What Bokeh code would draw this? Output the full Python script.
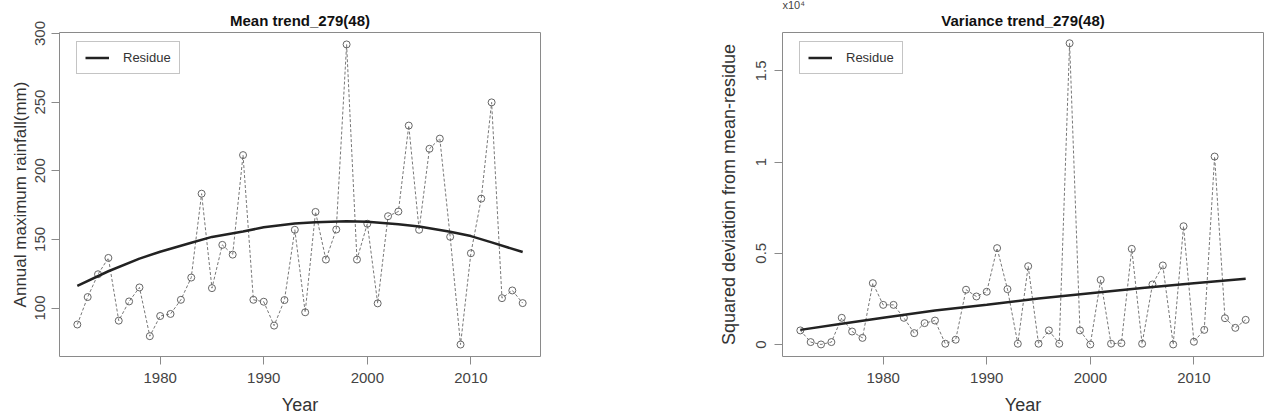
from bokeh.plotting import figure
from bokeh.layouts import row
from bokeh.models import Range1d, FixedTicker, Legend, LegendItem, Title
from bokeh.embed import file_html
from bokeh.resources import INLINE

# ---------------- data ----------------
years = [1972, 1973, 1974, 1975, 1976, 1977, 1978, 1979, 1980, 1981, 1982,
         1983, 1984, 1985, 1986, 1987, 1988, 1989, 1990, 1991, 1992, 1993,
         1994, 1995, 1996, 1997, 1998, 1999, 2000, 2001, 2002, 2003, 2004,
         2005, 2006, 2007, 2008, 2009, 2010, 2011, 2012, 2013, 2014, 2015]

annual_max = [88, 108, 124.6, 136.5, 90.8, 104.8, 115, 79.5, 94.2, 95.7, 106,
              122.2, 183.3, 114.5, 146, 138.9, 211.4, 106, 104.6, 87.2, 105.8, 157,
              96.9, 170, 135.3, 157.2, 292, 135.3, 161.4, 103.4, 166.9, 170.3, 232.9,
              157, 216, 223.4, 151.9, 73.4, 139.9, 179.7, 249.8, 107.2, 112.8, 103.6]

# squared deviation from mean-residue, in units of 10^4
sq_dev_1e4 = [0.077, 0.013, 0.0, 0.013, 0.146, 0.071, 0.036, 0.336, 0.217, 0.217, 0.146,
              0.062, 0.117, 0.131, 0.004, 0.026, 0.300, 0.263, 0.289, 0.528, 0.303, 0.004,
              0.429, 0.004, 0.077, 0.004, 1.651, 0.077, 0.0, 0.354, 0.004, 0.007, 0.524,
              0.004, 0.329, 0.433, 0.0, 0.648, 0.015, 0.080, 1.030, 0.144, 0.091, 0.135]

mean_trend_years = [1972, 1975, 1978, 1980, 1983, 1985, 1988, 1990, 1993, 1995,
                    1998, 2000, 2003, 2005, 2008, 2010, 2012, 2015]
mean_trend = [116.2, 126.8, 136.0, 141.0, 147.5, 151.8, 155.8, 158.8, 161.6, 162.5,
              163.3, 162.8, 161.0, 159.4, 155.5, 152.4, 147.8, 140.8]

var_trend_years = [1972, 1976, 1980, 1985, 1990, 1995, 2000, 2005, 2010, 2015]
var_trend_1e4 = [0.080, 0.114, 0.146, 0.186, 0.218, 0.252, 0.281, 0.310, 0.335, 0.360]

x_ticks = [1980, 1990, 2000, 2010]
left_y_ticks = [100, 150, 200, 250, 300]
right_y_ticks = [0, 0.5, 1, 1.5]
right_y_labels = {0: "0", 0.5: "0.5", 1: "1", 1.5: "1.5"}

FONT = "Liberation Sans"
GREY = "#8a8a8a"


def main_title(text):
    return Title(text=text, align="center", standoff=8, text_font=FONT,
                 text_font_size="15px", text_font_style="bold",
                 text_color="#111111")


def style(p, yticks, label_standoff, tick_standoff):
    p.outline_line_color = GREY
    p.outline_line_width = 1
    p.grid.visible = False
    p.xaxis.ticker = FixedTicker(ticks=x_ticks)
    p.yaxis.ticker = FixedTicker(ticks=yticks)
    for ax in p.axis:
        ax.axis_line_color = None
        ax.major_tick_line_color = GREY
        ax.major_tick_out = 8
        ax.major_tick_in = 0
        ax.minor_tick_line_color = None
        ax.major_label_text_font = FONT
        ax.major_label_text_font_size = "15px"
        ax.major_label_text_color = "#444444"
        ax.major_label_standoff = 8
        ax.axis_label_text_font = FONT
        ax.axis_label_text_font_style = "normal"
        ax.axis_label_text_font_size = "18px"
        ax.axis_label_text_color = "#333333"
    p.xaxis.axis_label_standoff = 9
    p.yaxis.axis_label_standoff = label_standoff
    p.yaxis.major_label_standoff = tick_standoff
    p.yaxis.major_label_orientation = "parallel"


def add_series(p, ys, tx, ty):
    p.line(years, ys, line_color="#777777", line_width=1, line_dash="3 2")
    p.scatter(years, ys, marker="circle", size=7, fill_color=None,
              line_color="#666666", line_width=1)
    r = p.line(tx, ty, line_color="#222222", line_width=2.5)
    leg = Legend(items=[LegendItem(label="Residue", renderers=[r])],
                 location=(17, 282), padding=8, spacing=0, margin=0,
                 glyph_width=24, glyph_height=15, label_height=15,
                 label_standoff=14, border_line_color=GREY,
                 label_text_font=FONT, label_text_font_size="13px",
                 label_text_color="#333333", background_fill_alpha=1)
    p.add_layout(leg)


xr = (1970.28, 2016.72)

p1 = figure(width=632, height=420, output_backend="svg", toolbar_location=None,
            title="Mean trend_279(48)",
            x_range=Range1d(*xr), y_range=Range1d(64.7, 300.7),
            min_border_left=59, min_border_right=92, min_border_top=32,
            min_border_bottom=64,
            x_axis_label="Year", y_axis_label="Annual maximum rainfall(mm)")
style(p1, left_y_ticks, 3, 6)
p1.yaxis.axis_label_text_font_size = "17px"
p1.title.text_font = FONT
p1.title.text_font_size = "15px"
p1.title.text_font_style = "bold"
p1.title.text_color = "#111111"
p1.title.align = "center"
p1.title.standoff = 8
add_series(p1, annual_max, mean_trend_years, mean_trend)

p2 = figure(width=633, height=420, output_backend="svg", toolbar_location=None,
            title=None,
            x_range=Range1d(*xr), y_range=Range1d(-0.066, 1.71),
            min_border_left=150, min_border_right=2, min_border_top=32,
            min_border_bottom=64,
            x_axis_label="Year", y_axis_label="Squared deviation from mean-residue")
style(p2, right_y_ticks, 15, 8)
p2.yaxis.major_label_overrides = right_y_labels
p2.add_layout(main_title("Variance trend_279(48)"), "above")
p2.add_layout(Title(text="x10\u2074", align="left", standoff=-10, offset=0,
                    text_font=FONT, text_font_size="11px",
                    text_font_style="normal", text_color="#444444"), "above")
add_series(p2, sq_dev_1e4, var_trend_years, var_trend_1e4)

layout = row(p1, p2, spacing=0)
open("out.html", "w").write(file_html(layout, INLINE))
